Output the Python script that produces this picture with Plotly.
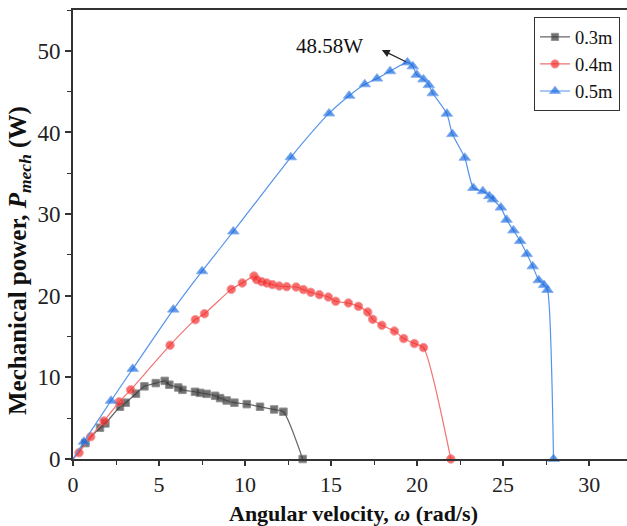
import plotly.graph_objects as go

# 0.3 m series
x03 = [0, 0.72, 1.57, 1.88, 2.73, 3.06, 3.66, 4.15, 4.81, 5.33, 5.6, 6.12, 6.36, 7.09, 7.38,
       7.77, 8.26, 8.55, 8.93, 9.38, 10.1, 10.87, 11.69, 12.23, 13.35]
y03 = [0, 1.95, 3.83, 4.36, 6.4, 6.9, 8.0, 8.9, 9.3, 9.57, 9.1, 8.76, 8.47, 8.23, 8.1,
       7.98, 7.74, 7.46, 7.17, 6.9, 6.72, 6.4, 6.07, 5.79, 0]

# 0.4 m series
x04 = [0, 0.35, 1.03, 1.8, 2.69, 3.35, 5.64, 7.11, 7.64, 9.2, 9.84, 10.52, 10.68, 10.97,
       11.26, 11.59, 11.99, 12.42, 12.97, 13.39, 13.82, 14.32, 14.84, 15.27, 16.01, 16.59,
       17.13, 17.42, 17.95, 18.68, 19.22, 19.84, 20.37, 21.96]
y04 = [0, 0.77, 2.73, 4.65, 7.0, 8.47, 13.94, 17.07, 17.8, 20.78, 21.56, 22.41, 21.97, 21.72,
       21.56, 21.36, 21.19, 21.11, 21.07, 20.75, 20.42, 20.13, 19.84, 19.32, 19.11, 18.7,
       18.0, 17.11, 16.38, 15.68, 14.75, 14.14, 13.65, 0]

# 0.5 m series
x05 = [0, 0.64, 2.21, 3.47, 5.83, 7.5, 9.32, 12.66, 14.88, 16.05, 16.96, 17.67, 18.43, 19.44,
       19.75, 19.98, 20.37, 20.68, 20.91, 21.73, 22.05, 22.77, 23.27, 23.82, 24.2, 24.4,
       24.87, 25.2, 25.6, 25.99, 26.38, 26.72, 27.07, 27.38, 27.58, 27.93]
y05 = [0, 2.12, 7.13, 11.04, 18.3, 23.0, 27.87, 36.96, 42.33, 44.5, 45.9, 46.6, 47.5, 48.58,
       48.1, 47.07, 46.5, 45.8, 44.8, 42.3, 39.8, 36.9, 33.2, 32.8, 32.2, 31.8,
       30.8, 29.3, 28.0, 26.7, 25.1, 23.6, 21.9, 21.3, 20.7, 0]

labels = ["0.3m", "0.4m", "0.5m"]
peak_label = "48.58W"
peak_x, peak_y = 19.44, 48.58
arrow_tip_x, arrow_tip_y = 17.95, 50.1
x_title = "<b>Angular velocity, <i>ω</i> (rad/s)</b>"
y_title = "<b>Mechanical power, <i>P</i><sub><i>mech</i></sub> (W)</b>"

series = [
    (x03, y03, labels[0], "#383838", "#666666", "square", 7.5),
    (x04, y04, labels[1], "#f52c2c", "#f27070", "circle", 8.5),
    (x05, y05, labels[2], "#1a6ae0", "#5593ea", "triangle-up", 10),
]

FONT = "Liberation Serif, Times New Roman, serif"
fig = go.Figure()
for xs, ys, name, mc, lc, sym, sz in series:
    sizes = [0 if (i == 0) else sz for i in range(len(xs))]
    fig.add_trace(go.Scatter(
        x=xs, y=ys, name=name, mode="lines+markers",
        line=dict(color=lc, width=1.2, shape="spline", smoothing=0.6),
        marker=dict(symbol=sym, color=mc, size=sizes),
        cliponaxis=False,
    ))

fig.add_annotation(x=arrow_tip_x, y=arrow_tip_y, ax=peak_x, ay=peak_y,
                   axref="x", ayref="y", xref="x", yref="y", text="",
                   showarrow=True, arrowhead=2, arrowsize=1.3, arrowwidth=1.2,
                   arrowcolor="#222222")
fig.add_annotation(x=16.95, y=50.6, xref="x", yref="y",
                   text=peak_label, showarrow=False, xanchor="right", yanchor="middle",
                   font=dict(family=FONT, size=21, color="#111111"))

# axis titles as paper-anchored annotations
fig.add_annotation(x=(353 - 73) / 554, y=-(513 - 459) / 449, xref="paper", yref="paper",
                   text=x_title, showarrow=False, xanchor="center", yanchor="middle",
                   font=dict(family=FONT, size=22, color="#111111"))
fig.add_annotation(x=-(73 - 19) / 554, y=(459 - 261) / 449, xref="paper", yref="paper",
                   text=y_title, showarrow=False, xanchor="center", yanchor="middle",
                   textangle=-90,
                   font=dict(family=FONT, size=25, color="#111111"))

fig.update_layout(
    width=627, height=526,
    margin=dict(l=73, r=0, t=10, b=67, autoexpand=False),
    paper_bgcolor="white", plot_bgcolor="white",
    font=dict(family=FONT, size=21, color="#222222"),
    showlegend=True,
    legend=dict(x=0.987, y=0.984, xanchor="right", yanchor="top",
                bordercolor="#333333", borderwidth=1.2, bgcolor="white",
                font=dict(family=FONT, size=18.5, color="#111111"),
                tracegroupgap=0, itemwidth=30),
)
fig.update_xaxes(
    range=[0, 32.2], dtick=5, tick0=0, showgrid=False, zeroline=False, automargin=False,
    showline=True, linecolor="#333333", linewidth=1.8, mirror=True,
    ticks="outside", ticklen=5, tickwidth=1.5, tickcolor="#333333",
    minor=dict(ticks="outside", ticklen=4, dtick=2.5, tickcolor="#333333", tickwidth=1.2),
    tickfont=dict(family=FONT, size=22, color="#222222"),
)
fig.update_yaxes(
    range=[0, 55], dtick=10, tick0=0, showgrid=False, zeroline=False, automargin=False,
    showline=True, linecolor="#333333", linewidth=1.8, mirror=False,
    ticks="outside", ticklen=6, tickwidth=1.5, tickcolor="#333333",
    minor=dict(ticks="outside", ticklen=4, dtick=5, tickcolor="#333333", tickwidth=1.2),
    tickfont=dict(family=FONT, size=23, color="#222222"),
)
fig.write_html(
    "out.html",
    config={"displayModeBar": False},
    post_script="document.body.style.margin='0';document.body.style.padding='0';"
                "document.body.style.overflow='hidden';",
)
